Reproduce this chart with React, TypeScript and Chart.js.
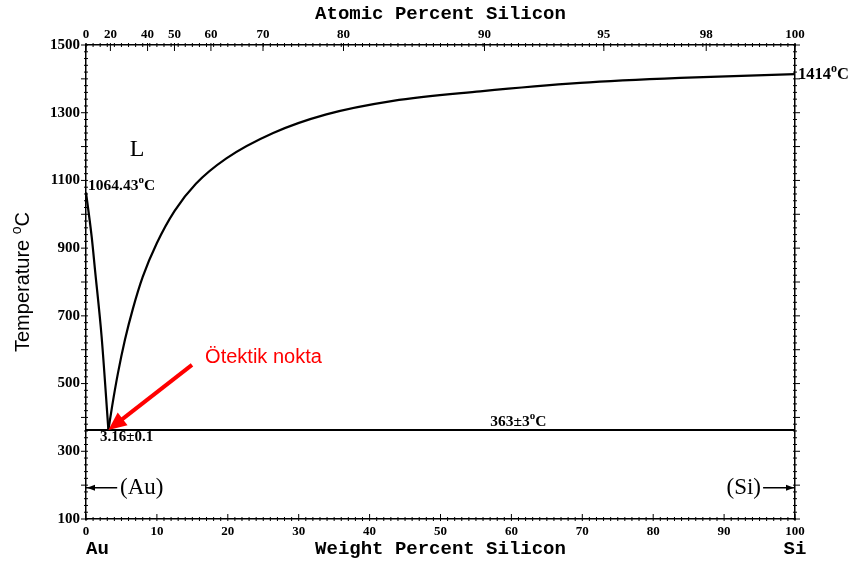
import React, { useEffect, useRef } from 'react';
import { Chart, registerables } from 'chart.js';

Chart.register(...registerables);

// Liquidus, Au-rich side (weight % Si, temperature °C)
const leftLiquidusWt = [0, 0.8, 1.27, 2.2, 3.16];
const leftLiquidusT = [1064.43, 934, 836, 639, 363];

// Liquidus, Si-rich side
const rightLiquidusWt = [3.16, 3.7, 4.5, 5.5, 6.6, 8, 10, 12.5, 15.5, 19.8, 26.4, 33.9, 43.3, 55.6, 69.7, 83.8, 100];
const rightLiquidusT = [363, 435, 530, 630, 720, 815, 915, 1010, 1090, 1165, 1240, 1295, 1335, 1363, 1388, 1403, 1414];

// Eutectic isotherm
const eutecticWt = [0, 100];
const eutecticT = [363, 363];

// Axis ticks
const atomicTickLabels = [0, 20, 40, 50, 60, 70, 80, 90, 95, 98, 100];
const weightTickStep = 10;
const tempTickStep = 200;

const MASS_AU = 196.97;
const MASS_SI = 28.086;
const atToWt = (a: number) => (a * MASS_SI) / (a * MASS_SI + (100 - a) * MASS_AU) * 100;

const SERIF = '"Liberation Serif", "DejaVu Serif", serif';
const MONO = '"Liberation Mono", "DejaVu Sans Mono", monospace';
const SANS = '"Liberation Sans", "DejaVu Sans", sans-serif';

type Part = { t: string; sup?: boolean };

function drawRich(ctx: CanvasRenderingContext2D, x: number, y: number, parts: Part[], size: number, family: string, weight: string, align: 'left' | 'right' | 'center') {
  const fontFor = (p: Part) => `${weight} ${p.sup ? Math.round(size * 0.7) : size}px ${family}`;
  let total = 0;
  for (const p of parts) {
    ctx.font = fontFor(p);
    total += ctx.measureText(p.t).width;
  }
  let cx = align === 'left' ? x : align === 'right' ? x - total : x - total / 2;
  ctx.textAlign = 'left';
  ctx.textBaseline = 'alphabetic';
  for (const p of parts) {
    ctx.font = fontFor(p);
    ctx.fillText(p.t, cx, p.sup ? y - size * 0.42 : y);
    cx += ctx.measureText(p.t).width;
  }
}

function arrowHead(ctx: CanvasRenderingContext2D, tipX: number, tipY: number, fromX: number, fromY: number, len: number, half: number) {
  const ang = Math.atan2(tipY - fromY, tipX - fromX);
  ctx.beginPath();
  ctx.moveTo(tipX, tipY);
  ctx.lineTo(tipX - len * Math.cos(ang) + half * Math.sin(ang), tipY - len * Math.sin(ang) - half * Math.cos(ang));
  ctx.lineTo(tipX - len * Math.cos(ang) - half * Math.sin(ang), tipY - len * Math.sin(ang) + half * Math.cos(ang));
  ctx.closePath();
  ctx.fill();
}

const decorPlugin = {
  id: 'decor',
  afterDraw(chart: any) {
    const { ctx, chartArea } = chart;
    const x = chart.scales.x;
    const y = chart.scales.y;
    const { left, right, top, bottom } = chartArea;
    ctx.save();

    // minor / major tick marks on all four sides
    ctx.strokeStyle = '#000';
    ctx.lineWidth = 1;
    ctx.beginPath();
    for (let w = 0; w <= 100; w += 1) {
      const px = x.getPixelForValue(w);
      const major = w % weightTickStep === 0;
      ctx.moveTo(px, bottom + 2);
      ctx.lineTo(px, bottom - (major ? 5 : 2));
      ctx.moveTo(px, top - 2);
      ctx.lineTo(px, top + 2);
    }
    for (const a of atomicTickLabels) {
      const px = x.getPixelForValue(atToWt(a));
      ctx.moveTo(px, top - 2);
      ctx.lineTo(px, top + 6);
    }
    for (let t = 100; t <= 1500; t += 20) {
      const py = y.getPixelForValue(t);
      const major = t % 100 === 0;
      ctx.moveTo(left - (major ? 5 : 2), py);
      ctx.lineTo(left + 2, py);
      ctx.moveTo(right - 2, py);
      ctx.lineTo(right + (major ? 5 : 2), py);
    }
    ctx.stroke();

    ctx.fillStyle = '#000';
    // Phase label
    ctx.font = `24px ${SERIF}`;
    ctx.textAlign = 'center';
    ctx.textBaseline = 'alphabetic';
    ctx.fillText('L', x.getPixelForValue(7.2), y.getPixelForValue(1172));

    drawRich(ctx, x.getPixelForValue(0) + 2, y.getPixelForValue(1072), [{ t: '1064.43' }, { t: 'o', sup: true }, { t: 'C' }], 15.5, SERIF, 'bold', 'left');
    drawRich(ctx, x.getPixelForValue(100) + 3, y.getPixelForValue(1400), [{ t: '1414' }, { t: 'o', sup: true }, { t: 'C' }], 16.5, SERIF, 'bold', 'left');
    drawRich(ctx, x.getPixelForValue(57), y.getPixelForValue(375), [{ t: '363±3' }, { t: 'o', sup: true }, { t: 'C' }], 15.5, SERIF, 'bold', 'left');
    drawRich(ctx, x.getPixelForValue(1.97), y.getPixelForValue(330), [{ t: '3.16±0.1' }], 15, SERIF, 'bold', 'left');

    // (Au) and (Si) phase marks
    const yPh = y.getPixelForValue(192);
    ctx.lineWidth = 1.5;
    ctx.beginPath();
    ctx.moveTo(x.getPixelForValue(0), yPh);
    ctx.lineTo(x.getPixelForValue(4.4), yPh);
    ctx.moveTo(x.getPixelForValue(95.5), yPh);
    ctx.lineTo(x.getPixelForValue(100), yPh);
    ctx.stroke();
    arrowHead(ctx, x.getPixelForValue(0) + 1, yPh, x.getPixelForValue(4), yPh, 8, 3);
    arrowHead(ctx, x.getPixelForValue(100) - 1, yPh, x.getPixelForValue(96), yPh, 8, 3);
    ctx.font = `23px ${SERIF}`;
    ctx.textBaseline = 'middle';
    ctx.textAlign = 'left';
    ctx.fillText('(Au)', x.getPixelForValue(4.8), yPh);
    ctx.textAlign = 'right';
    ctx.fillText('(Si)', x.getPixelForValue(95.2), yPh);

    // Au / Si end labels
    ctx.font = `bold 19px ${MONO}`;
    ctx.textBaseline = 'middle';
    ctx.textAlign = 'left';
    ctx.fillText('Au', x.getPixelForValue(0), 549);
    ctx.textAlign = 'center';
    ctx.fillText('Si', x.getPixelForValue(100), 549);

    // Y title with superscript
    ctx.save();
    ctx.translate(left - 64, (top + bottom) / 2);
    ctx.rotate(-Math.PI / 2);
    drawRich(ctx, 0, 7, [{ t: 'Temperature ' }, { t: 'o', sup: true }, { t: 'C' }], 20, SANS, 'normal', 'center');
    ctx.restore();

    // Red eutectic annotation
    const red = 'rgb(255,0,0)';
    const sx = x.getPixelForValue(14.95);
    const sy = y.getPixelForValue(555);
    const tx = x.getPixelForValue(3.16);
    const ty = y.getPixelForValue(363);
    const ang = Math.atan2(ty - sy, tx - sx);
    ctx.strokeStyle = red;
    ctx.fillStyle = red;
    ctx.lineWidth = 4;
    ctx.beginPath();
    ctx.moveTo(sx, sy);
    ctx.lineTo(tx - 14 * Math.cos(ang), ty - 14 * Math.sin(ang));
    ctx.stroke();
    arrowHead(ctx, tx, ty, sx, sy, 18, 8);
    ctx.font = `20px ${SANS}`;
    ctx.textAlign = 'left';
    ctx.textBaseline = 'middle';
    ctx.fillText('Ötektik nokta', x.getPixelForValue(16.8), y.getPixelForValue(576));

    ctx.restore();
  },
};

const toPoints = (xs: number[], ys: number[]) => xs.map((v, i) => ({ x: v, y: ys[i] }));

export default function App() {
  const ref = useRef<HTMLCanvasElement>(null);
  useEffect(() => {
    document.body.style.margin = '0';
    const canvas = ref.current!;
    const tickFont = { family: SERIF, size: 13, weight: 'bold' as const };
    const border = { display: true, color: '#000', width: 1.5 };
    const noGrid = { display: false, drawTicks: false };
    const lineStyle = { showLine: true, borderColor: '#000', borderWidth: 2.2, pointRadius: 0, fill: false };
    const chart = new Chart(canvas, {
      type: 'scatter',
      data: {
        datasets: [
          { ...lineStyle, data: toPoints(leftLiquidusWt, leftLiquidusT), cubicInterpolationMode: 'monotone' },
          { ...lineStyle, data: toPoints(rightLiquidusWt, rightLiquidusT), cubicInterpolationMode: 'monotone' },
          { ...lineStyle, borderWidth: 2, data: toPoints(eutecticWt, eutecticT) },
        ],
      },
      options: {
        responsive: false,
        animation: false,
        layout: { padding: 0 },
        plugins: { legend: { display: false }, tooltip: { enabled: false } },
        scales: {
          x: {
            type: 'linear', position: 'bottom', min: 0, max: 100,
            ticks: { stepSize: weightTickStep, padding: 5, color: '#000', font: tickFont, maxRotation: 0, callback: (v: any) => String(v) },
            grid: noGrid, border,
            title: { display: true, text: 'Weight Percent Silicon', color: '#000', font: { family: MONO, size: 19, weight: 'bold' }, padding: { top: 0, bottom: 4 } },
            afterFit: (s: any) => { s.height = 46; },
          },
          xTop: {
            type: 'linear', position: 'top', min: 0, max: 100,
            afterBuildTicks: (s: any) => { s.ticks = atomicTickLabels.map((a) => ({ value: atToWt(a) })); },
            ticks: { autoSkip: false, padding: 3, color: '#000', font: tickFont, maxRotation: 0, callback: (_v: any, i: number) => String(atomicTickLabels[i]) },
            grid: noGrid, border,
            title: { display: true, text: 'Atomic Percent Silicon', color: '#000', font: { family: MONO, size: 19, weight: 'bold' }, padding: { top: 3, bottom: 0 } },
            afterFit: (s: any) => { s.height = 45; },
          },
          y: {
            type: 'linear', position: 'left', min: 100, max: 1500,
            ticks: { stepSize: tempTickStep, padding: 6, color: '#000', font: { family: SERIF, size: 15, weight: 'bold' }, callback: (v: any) => String(v) },
            grid: noGrid, border,
            afterFit: (s: any) => { s.width = 86; },
          },
          yRight: {
            type: 'linear', position: 'right', min: 100, max: 1500,
            ticks: { display: false },
            grid: noGrid, border,
            afterFit: (s: any) => { s.width = 58; },
          },
        },
      } as any,
      plugins: [decorPlugin],
    });
    return () => chart.destroy();
  }, []);
  return <canvas ref={ref} width={853} height={565} style={{ display: 'block' }} />;
}
